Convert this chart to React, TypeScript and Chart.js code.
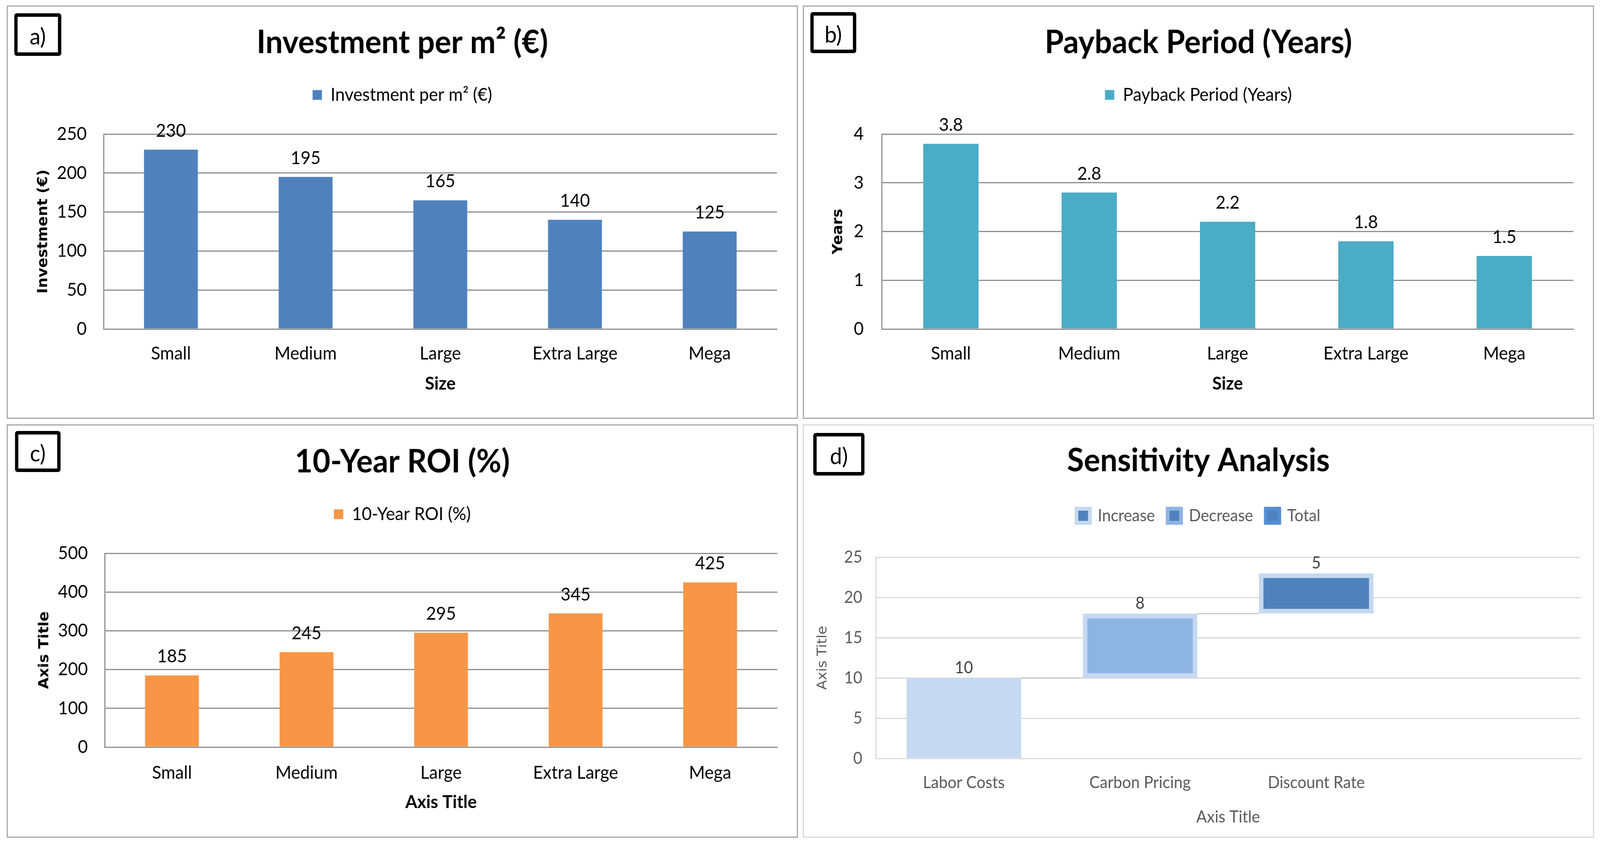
import React, { useEffect, useRef } from 'react';
import { Chart, registerables } from 'chart.js';

Chart.register(...registerables);

// ---------------- data ----------------
const sizeCategories = ['Small', 'Medium', 'Large', 'Extra Large', 'Mega'];
const investmentPerM2 = [230, 195, 165, 140, 125];
const paybackYears = [3.8, 2.8, 2.2, 1.8, 1.5];
const roi10Year = [185, 245, 295, 345, 425];
const sensitivityCategories = ['Labor Costs', 'Carbon Pricing', 'Discount Rate', ''];
const sensitivityChanges = [10, 8, 5];
const sensitivityLegend = ['Increase', 'Decrease', 'Total'];
const investmentAxis = [0, 250, 50];
const paybackAxis = [0, 4, 1];
const roiAxis = [0, 500, 100];
const sensitivityAxis = [0, 25, 5];

// ---------------- style ----------------
const PAGE_W = 4279;
const PAGE_H = 2160;
const FONT = "Lato, 'Noto Sans', sans-serif";
const AXIS_FONT = "'DejaVu Sans', sans-serif";
const PANEL_W = 2116;
const PANEL_H = 1058;
const FRAME = 3;
const W = PANEL_W - 2 * FRAME;
const H = PANEL_H - 2 * FRAME;

type Panel = {
  x: number; y: number; frame: string;
  tag: string; tagBox: [number, number, number, number];
  title: string; titleY: number;
  legendY: number; legendFont: number; boxSize: number; legendPad: number; legendColor: string;
  plotL: number; plotR: number; plotT: number; plotB: number;
  yTitle: string; yTitleX: number; yTitleFont: any; yTitleColor: string;
  xTitle: string; xTitleY: number; xTitleFont: any; xTitleColor: string;
  tickFont: number; tickColor: string; xTickPad: number; yTickPad: number;
  gridColor: string; axis: number[];
  labelFont: number; labelColor: string; labelOffset: number;
};

function valueLabelPlugin(texts: string[], p: Panel) {
  return {
    id: 'valueLabels',
    afterDatasetsDraw(chart: any) {
      const ctx = chart.ctx;
      ctx.save();
      ctx.font = `${p.labelFont}px ${FONT}`;
      ctx.fillStyle = p.labelColor;
      ctx.textAlign = 'center';
      ctx.textBaseline = 'middle';
      const meta = chart.getDatasetMeta(0);
      meta.data.forEach((el: any, j: number) => {
        const t = texts[j];
        if (t === undefined || t === null || t === '') return;
        ctx.fillText(t, el.x, el.y - p.labelOffset);
      });
      ctx.restore();
    },
  };
}

function connectorPlugin(levels: number[]) {
  return {
    id: 'connectors',
    beforeDatasetsDraw(chart: any) {
      const ctx = chart.ctx;
      const meta = chart.getDatasetMeta(0);
      const ys = chart.scales.y;
      ctx.save();
      ctx.strokeStyle = '#c8c8c8';
      ctx.lineWidth = 3;
      for (let i = 0; i < levels.length - 1; i++) {
        const a = meta.data[i];
        const b = meta.data[i + 1];
        if (!a || !b) continue;
        const y = ys.getPixelForValue(levels[i]);
        ctx.beginPath();
        ctx.moveTo(a.x + a.width / 2, y);
        ctx.lineTo(b.x - b.width / 2, y);
        ctx.stroke();
      }
      ctx.restore();
    },
  };
}

function buildOptions(p: Panel, legendLabels?: any) {
  const side = W - p.plotR;
  const itemH = Math.max(p.legendFont, p.boxSize);
  const titleSize = 82;
  const titleLH = titleSize * 1.2;
  const titlePadTop = p.titleY - titleLH / 2;
  const titlePadBottom = p.legendY - p.legendPad - itemH / 2 - (p.titleY + titleLH / 2);
  const legendBottom = p.legendY + itemH / 2 + 10;
  const spacer = p.plotT - legendBottom - 1;
  const yTitleLH = p.yTitleFont.size * 1.2;
  const xTitleLH = p.xTitleFont.size * 1.2;
  const labels: any = {
    boxWidth: p.boxSize,
    boxHeight: p.boxSize,
    padding: p.legendPad,
    color: p.legendColor,
    font: { family: FONT, size: p.legendFont },
  };
  if (legendLabels) labels.generateLabels = legendLabels;
  const options: any = {
    responsive: false,
    maintainAspectRatio: false,
    animation: false,
    devicePixelRatio: 1,
    events: [],
    layout: { padding: { left: side, right: side, top: 0, bottom: 0 } },
    plugins: {
      title: {
        display: true,
        text: p.title,
        color: '#000000',
        font: { family: FONT, size: titleSize, weight: 'bold' },
        padding: { top: titlePadTop, bottom: titlePadBottom },
      },
      legend: { display: true, position: 'top', labels },
      subtitle: {
        display: true,
        text: '',
        position: 'top',
        weight: 500,
        font: { size: 1, lineHeight: 1 },
        padding: { top: 0, bottom: spacer },
      },
      tooltip: { enabled: false },
    },
    scales: {
      x: {
        grid: { display: false, drawTicks: false, tickLength: 0 },
        border: { display: true, color: p.gridColor, width: 3 },
        ticks: {
          color: p.tickColor,
          font: { family: FONT, size: p.tickFont },
          padding: p.xTickPad,
          maxRotation: 0,
          minRotation: 0,
          autoSkip: false,
        },
        title: {
          display: true,
          text: p.xTitle,
          color: p.xTitleColor,
          font: p.xTitleFont,
          padding: { top: 0, bottom: H - p.xTitleY - xTitleLH / 2 },
        },
        afterFit: (s: any) => { s.height = H - p.plotB; },
      },
      y: {
        min: p.axis[0],
        max: p.axis[1],
        grid: { color: p.gridColor, lineWidth: 3, drawTicks: false, tickLength: 0 },
        border: { display: true, color: p.gridColor, width: 3 },
        ticks: {
          stepSize: p.axis[2],
          color: p.tickColor,
          font: { family: FONT, size: p.tickFont },
          padding: p.yTickPad,
        },
        title: {
          display: true,
          text: p.yTitle,
          color: p.yTitleColor,
          font: p.yTitleFont,
          padding: { top: p.yTitleX - side - yTitleLH / 2, bottom: 0 },
        },
        afterFit: (s: any) => { s.width = p.plotL - side; },
      },
    },
  };
  return { options, spacer };
}

const panelA: Panel = {
  x: 18, y: 14, frame: '#a6a6a6', tag: 'a)', tagBox: [38, 34, 126, 109],
  title: 'Investment per m² (€)', titleY: 93,
  legendY: 226, legendFont: 46, boxSize: 25, legendPad: 10, legendColor: '#000000',
  plotL: 256, plotR: 2057, plotT: 326, plotB: 825,
  yTitle: 'Investment (€)', yTitleX: 95, yTitleFont: { family: AXIS_FONT, size: 38, weight: 'bold' }, yTitleColor: '#000000',
  xTitle: 'Size', xTitleY: 965, xTitleFont: { family: FONT, size: 46, weight: 'bold' }, xTitleColor: '#000000',
  tickFont: 46, tickColor: '#000000', xTickPad: 36, yTickPad: 45,
  gridColor: '#8f8f8f', axis: investmentAxis,
  labelFont: 46, labelColor: '#000000', labelOffset: 48,
};

const panelB: Panel = {
  ...panelA,
  x: 2147, y: 14, tag: 'b)', tagBox: [2167, 31, 123, 105],
  title: 'Payback Period (Years)',
  plotL: 208, plotR: 2058,
  yTitle: 'Years', yTitleX: 92, yTickPad: 48,
  axis: paybackAxis,
};

const panelC: Panel = {
  ...panelA,
  x: 18, y: 1086, tag: 'c)', tagBox: [40, 1103, 122, 105],
  title: '10-Year ROI (%)', titleY: 94, legendY: 227,
  plotL: 259, plotR: 2058, plotT: 327, plotB: 823,
  yTitle: 'Axis Title', yTitleX: 98,
  xTitle: 'Axis Title', xTitleY: 964, xTickPad: 39,
  axis: roiAxis,
};

const panelD: Panel = {
  x: 2147, y: 1086, frame: '#d9d9d9', tag: 'd)', tagBox: [2175, 1108, 137, 109],
  title: 'Sensitivity Analysis', titleY: 91,
  legendY: 231, legendFont: 42, boxSize: 36, legendPad: 34, legendColor: '#595959',
  plotL: 192, plotR: 2077, plotT: 337, plotB: 852,
  yTitle: 'Axis Title', yTitleX: 51, yTitleFont: { family: AXIS_FONT, size: 36, weight: 'normal' }, yTitleColor: '#595959',
  xTitle: 'Axis Title', xTitleY: 1002, xTitleFont: { family: FONT, size: 42, weight: 'normal' }, xTitleColor: '#595959',
  tickFont: 42, tickColor: '#595959', xTickPad: 37, yTickPad: 36,
  gridColor: '#d9d9d9', axis: sensitivityAxis,
  labelFont: 42, labelColor: '#404040', labelOffset: 26,
};

function makeSimpleBar(canvas: HTMLCanvasElement, p: Panel, label: string, values: number[], color: string) {
  const { options, spacer } = buildOptions(p);
  const chart = new Chart(canvas, {
    type: 'bar',
    data: {
      labels: sizeCategories,
      datasets: [{
        label,
        data: values,
        backgroundColor: color,
        borderWidth: 0,
        barPercentage: 0.4,
        categoryPercentage: 1,
      }],
    },
    options,
    plugins: [valueLabelPlugin(values.map((v) => String(v)), p)],
  } as any);
  return { chart, spacer };
}

function makeWaterfall(canvas: HTMLCanvasElement, p: Panel) {
  const fills = ['#C6D9F0', '#8EB4E3', '#4F81BD'];
  const outer = ['#C6D9F0', '#8EB4E3', '#558ED5'];
  const ranges: any[] = [];
  const levels: number[] = [];
  let run = 0;
  sensitivityChanges.forEach((c) => {
    ranges.push([run, run + c]);
    run += c;
    levels.push(run);
  });
  while (ranges.length < sensitivityCategories.length) ranges.push(null);
  const legendLabels = () => sensitivityLegend.map((t, i) => ({
    text: t,
    fillStyle: '#4F81BD',
    strokeStyle: outer[i],
    lineWidth: 10,
    hidden: false,
    datasetIndex: 0,
    fontColor: '#595959',
  }));
  const { options, spacer } = buildOptions(p, legendLabels);
  const chart = new Chart(canvas, {
    type: 'bar',
    data: {
      labels: sensitivityCategories,
      datasets: [{
        label: 'Sensitivity',
        data: ranges,
        backgroundColor: [...fills, '#ffffff'],
        borderColor: '#C6D9F0',
        borderWidth: [0, 12, 12, 0],
        borderSkipped: false,
        barPercentage: 0.65,
        categoryPercentage: 1,
      }],
    },
    options,
    plugins: [
      connectorPlugin(levels),
      valueLabelPlugin(sensitivityChanges.map((v) => String(v)), p),
    ],
  } as any);
  return { chart, spacer };
}

function fixTop(made: { chart: any; spacer: number }, p: Panel) {
  const ca = made.chart.chartArea;
  if (!ca) return;
  const d = p.plotT - ca.top;
  if (Math.abs(d) > 0.5) {
    made.chart.options.plugins.subtitle.padding = { top: 0, bottom: Math.max(0, made.spacer + d) };
    made.chart.update();
  }
}

function PanelView({ p, build }: { p: Panel; build: (c: HTMLCanvasElement) => { chart: any; spacer: number } }) {
  const ref = useRef<HTMLCanvasElement | null>(null);
  useEffect(() => {
    if (!ref.current) return;
    const made = build(ref.current);
    fixTop(made, p);
    return () => { made.chart.destroy(); };
  }, []);
  return (
    <>
      <div
        style={{
          position: 'absolute', left: p.x, top: p.y, width: PANEL_W, height: PANEL_H,
          boxSizing: 'border-box', border: `${FRAME}px solid ${p.frame}`, background: '#ffffff',
        }}
      >
        <canvas ref={ref} width={W} height={H} style={{ display: 'block', width: W, height: H }} />
      </div>
      <div
        style={{
          position: 'absolute', left: p.tagBox[0], top: p.tagBox[1], width: p.tagBox[2], height: p.tagBox[3],
          boxSizing: 'border-box', border: '9px solid #000000', borderRadius: 7, background: '#ffffff',
          display: 'flex', alignItems: 'center', justifyContent: 'center',
          fontFamily: FONT, fontSize: 58, lineHeight: 1, color: '#000000', paddingTop: 6,
        }}
      >
        {p.tag}
      </div>
    </>
  );
}

function viewport() {
  const vw = document.documentElement.clientWidth || window.innerWidth || PAGE_W;
  const vh = window.innerHeight || document.documentElement.clientHeight || PAGE_H;
  return { sx: vw / PAGE_W, sy: vh / PAGE_H, vw, vh };
}

export default function App() {
  const { sx, sy, vw, vh } = viewport();
  useEffect(() => {
    document.body.style.overflow = 'hidden';
  }, []);
  return (
    <div style={{ position: 'absolute', left: 0, top: 0, width: vw, height: vh, overflow: 'hidden', background: '#ffffff' }}>
      <div
        style={{
          position: 'absolute', left: 0, top: 0, width: PAGE_W, height: PAGE_H, background: '#ffffff',
          transform: `scale(${sx}, ${sy})`, transformOrigin: '0 0',
        }}
      >
        <PanelView p={panelA} build={(c) => makeSimpleBar(c, panelA, 'Investment per m² (€)', investmentPerM2, '#4F81BD')} />
        <PanelView p={panelB} build={(c) => makeSimpleBar(c, panelB, 'Payback Period (Years)', paybackYears, '#4BACC6')} />
        <PanelView p={panelC} build={(c) => makeSimpleBar(c, panelC, '10-Year ROI (%)', roi10Year, '#F79646')} />
        <PanelView p={panelD} build={(c) => makeWaterfall(c, panelD)} />
      </div>
    </div>
  );
}
